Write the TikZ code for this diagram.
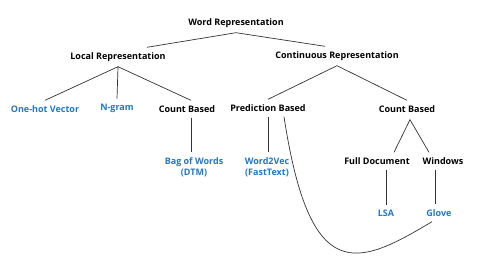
\documentclass[tikz,border=0pt]{standalone}
\usepackage{fontspec}
\setmainfont{Open Sans}

\definecolor{leafblue}{RGB}{30,120,200}
\definecolor{branchgray}{RGB}{50,50,50}

\tikzset{
	term/.style={inner sep=5pt, font=\fontsize{9}{11}\selectfont\bfseries, text=black},
	leaf/.style={term, text=leafblue, align=center},
	branch/.style={draw=branchgray, line width=0.7pt}
}

\begin{document}
\begin{tikzpicture}[x=1pt, y=-1pt]
	\useasboundingbox (0, 0) rectangle (477, 279);
	% Nodes:
	\node[term](WR) at (236, 23){Word Representation};
	\node[term](LR) at (118, 57){Local Representation};
	\node[term](CR) at (337, 56){Continuous Representation};
	\node[leaf](OH) at (45, 109){One-hot Vector};
	\node[leaf](NG) at (117, 108){N-gram};
	\node[term](CBL) at (187, 109){Count Based};
	\node[term](PB) at (268, 108){Prediction Based};
	\node[term](CBR) at (407, 109){Count Based};
	\node[leaf](BOW) at (194, 167){Bag of Words\\(DTM)};
	\node[leaf](W2V) at (267, 167){Word2Vec\\(FastText)};
	\node[term](FD) at (377, 161){Full Document};
	\node[term](WIN) at (443, 161){Windows};
	\node[leaf](LSA) at (386, 213){LSA};
	\node[leaf](GL) at (439, 213){Glove};
	% Branches:
	\draw[branch] ([xshift=29pt]LR.north) -- (WR.south) -- ([xshift=-12pt]CR.north);
	\draw[branch] (OH.north) -- (LR.south) -- (NG.north);
	\draw[branch] (LR.south) -- ([xshift=4pt]CBL.north);
	\draw[branch] ([xshift=4pt]CBL.south) -- ([xshift=4pt]CBL.south |- BOW.north);
	\draw[branch] (PB.north) -- (CR.south) -- (CBR.north);
	\draw[branch] (PB.south) -- (PB.south |- W2V.north);
	\draw[branch] ([xshift=17pt]FD.north) -- ([xshift=3pt,yshift=-2pt]CBR.south) -- ([xshift=-14pt]WIN.north);
	\draw[branch] (LSA.north |- FD.south) -- (LSA.north);
	\draw[branch] ([xshift=-4pt]GL.north |- WIN.south) -- ([xshift=-4pt]GL.north);
	\draw[branch] ([xshift=16pt]PB.south) .. controls +(26, 170) and +(-75, 45) .. ([xshift=-7pt]GL.south);
\end{tikzpicture}
\end{document}
